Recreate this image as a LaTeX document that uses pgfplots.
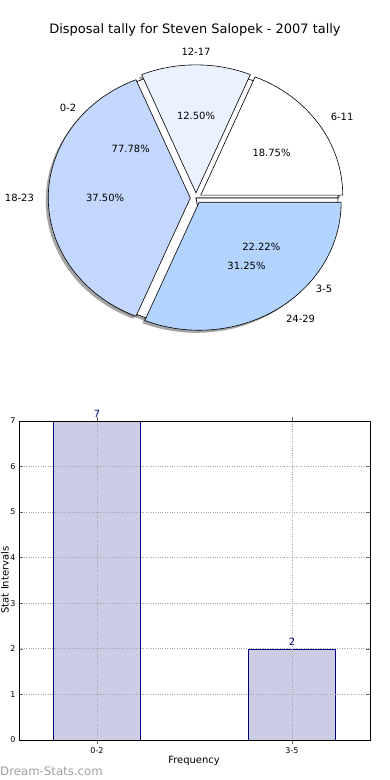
\documentclass[border=0pt]{standalone}
\usepackage{pgfplots}
\pgfplotsset{compat=1.18}
\usepackage{fontspec}
\setmainfont{DejaVu Sans}
\definecolor{cA}{HTML}{FFFFFF}
\definecolor{cB}{HTML}{EBF2FF}
\definecolor{cC}{HTML}{C4D8FF}
\definecolor{cD}{HTML}{B3D4FF}
\definecolor{barfill}{RGB}{204,204,229}
\definecolor{navyc}{RGB}{0,0,128}
% wedge: start angle, end angle, explode, colour
\newcommand{\pieWedge}[4]{%
  \filldraw[fill=#4, draw=black, line width=0.6bp]
    (axis cs:{#3*cos((#1+#2)/2)},{#3*sin((#1+#2)/2)}) -- ++(#1:142bp and 128bp)
    arc[start angle=#1, end angle=#2, x radius=142bp, y radius=128bp] -- cycle;}
\newcommand{\pieShadow}[3]{%
  \fill[black!70, opacity=0.5]
    (axis cs:{#3*cos((#1+#2)/2)-0.018},{#3*sin((#1+#2)/2)-0.02}) -- ++(#1:142bp and 128bp)
    arc[start angle=#1, end angle=#2, x radius=142bp, y radius=128bp] -- cycle;}
% label: mid angle, explode, text, anchor
\newcommand{\pieLabel}[4]{%
  \node[anchor=#4, font=\fontsize{10}{12}\selectfont, inner sep=0pt]
    at (axis cs:{(1.1+#2)*cos(#1)},{(1.1+#2)*sin(#1)}) {#3};}
\newcommand{\piePct}[3]{%
  \node[font=\fontsize{10}{12}\selectfont, inner sep=0pt]
    at (axis cs:{(0.6+#2)*cos(#1)},{(0.6+#2)*sin(#1)}) {#3};}
\begin{document}
\begin{tikzpicture}
\path[use as bounding box] (0,0) rectangle (390bp,780bp);
\node[font=\fontsize{13}{15}\selectfont] at (195bp,750bp) {Disposal tally for Steven Salopek - 2007 tally};
% ---------- pie ----------
\begin{axis}[at={(196bp,582bp)}, anchor=center, x=142bp, y=128bp,
  xmin=-1.3, xmax=1.3, ymin=-1.3, ymax=1.3, hide axis, clip=false]
  % shadows (all below the wedges)
  \pieShadow{0}{280}{0}
  \pieShadow{280}{360}{0}
  \pieShadow{0}{67.5}{0.04}
  \pieShadow{67.5}{112.5}{0.04}
  \pieShadow{112.5}{247.5}{0.04}
  \pieShadow{247.5}{360}{0.04}
  % first pie: 0-2 = 7, 3-5 = 2
  \pieWedge{0}{280}{0}{white}
  \pieWedge{280}{360}{0}{white}
  % second pie: 6-11 = 18.75, 12-17 = 12.5, 18-23 = 37.5, 24-29 = 31.25 (%)
  \pieWedge{0}{67.5}{0.04}{cA}
  \pieWedge{67.5}{112.5}{0.04}{cB}
  \pieWedge{112.5}{247.5}{0.04}{cC}
  \pieWedge{247.5}{360}{0.04}{cD}
  % labels
  \pieLabel{140}{0}{0-2}{east}
  \pieLabel{320}{0}{3-5}{west}
  \piePct{140}{0}{77.78\%}
  \piePct{320}{0}{22.22\%}
  \pieLabel{33.75}{0.04}{6-11}{west}
  \pieLabel{90}{0.04}{12-17}{center}
  \pieLabel{180}{0.04}{18-23}{east}
  \pieLabel{303.75}{0.04}{24-29}{west}
  \piePct{33.75}{0.04}{18.75\%}
  \piePct{90}{0.04}{12.50\%}
  \piePct{180}{0.04}{37.50\%}
  \piePct{303.75}{0.04}{31.25\%}
\end{axis}
% ---------- bars ----------
\begin{axis}[at={(19bp,40bp)}, anchor=south west, scale only axis,
  width=351bp, height=319bp,
  xmin=-0.4, xmax=1.4, ymin=0, ymax=7,
  xtick={0,1}, xticklabels={0-2,3-5}, ytick={0,1,...,7},
  grid=major, grid style={dotted, black!35, line width=0.8bp},
  axis on top,
  tick align=inside, tick pos=both, major tick length=4bp,
  major tick style={black!60, line width=0.6bp},
  ticklabel style={font=\fontsize{8}{9}\selectfont},
  /pgf/number format/assume math mode=true,
  axis line style={black, line width=0.8bp},
  ybar, bar width=0.446,
  nodes near coords,
  nodes near coords style={navyc, font=\fontsize{10}{12}\selectfont, /pgf/number format/assume math mode=true}]
  \addplot[fill=barfill, draw=navyc, line width=0.6bp] coordinates {(0,7) (1,2)};
\end{axis}
\node[rotate=90, font=\fontsize{10}{12}\selectfont] at (5bp,200bp) {Stat Intervals};
\node[font=\fontsize{10}{12}\selectfont] at (194bp,19bp) {Frequency};
\node[anchor=west, inner sep=0pt, text=gray!75, font=\fontsize{11.8}{13}\selectfont] at (0bp,9bp) {Dream-Stats.com};
\end{tikzpicture}
\end{document}
